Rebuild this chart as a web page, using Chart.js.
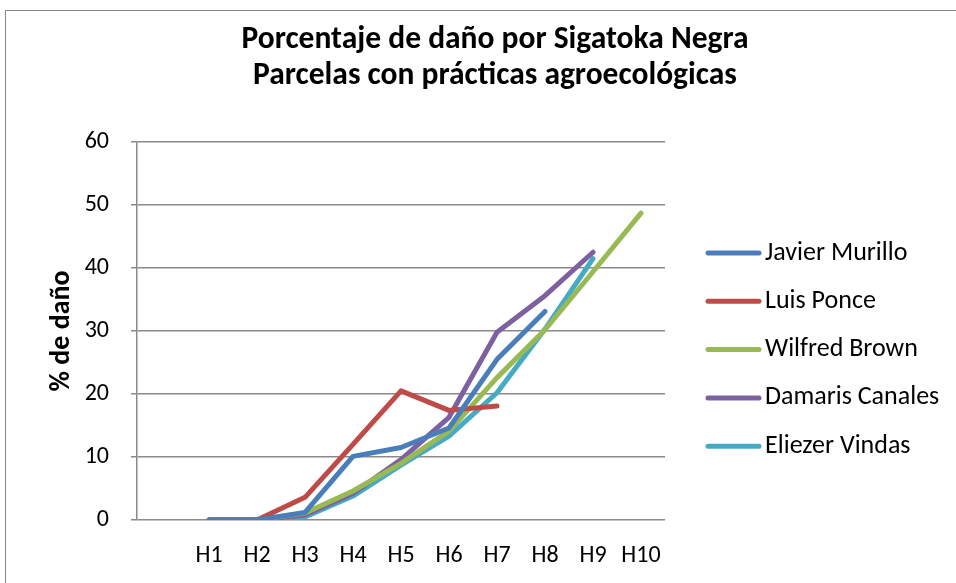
<!DOCTYPE html>
<html>
<head>
<meta charset="utf-8">
<script src="https://cdn.jsdelivr.net/npm/chart.js@4.4.1/dist/chart.umd.min.js"></script>
<style>
  body { margin: 0; background: #fff; overflow: hidden; }
  #frame { position: absolute; left: 5px; top: 10px; width: 1100px; height: 800px; border: 1px solid #888; }
  #chart-box { position: absolute; left: 0; top: 0; width: 956px; height: 583px; }
</style>
</head>
<body>
<div id="frame"></div>
<div id="chart-box"><canvas id="lineChart" width="956" height="583"></canvas></div>
<script>
// Categories (first slot is left empty, as in the original sheet)
const categories = ['', 'H1', 'H2', 'H3', 'H4', 'H5', 'H6', 'H7', 'H8', 'H9', 'H10'];

// % de daño per parcela
const javierMurillo   = [null, 0, 0, 1.2, 10.1, 11.5, 14.6, 25.5, 33.1, null, null];
const luisPonce       = [null, 0, 0, 3.6, 12.0, 20.5, 17.4, 18.1, null, null, null];
const wilfredBrown    = [null, 0, 0, 1.1, 4.6, 9.0, 14.1, 22.6, 30.2, 39.4, 48.7];
const damarisCanales  = [null, 0, 0, 0.8, 4.2, 9.6, 16.3, 29.8, 35.6, 42.5, null];
const eliezerVindas   = [null, 0, 0, 0.5, 3.8, 8.7, 13.3, 20.2, 30.3, 41.5, null];

const yTicks = [0, 10, 20, 30, 40, 50, 60];

const titleLines = ['Porcentaje de daño por Sigatoka Negra', 'Parcelas con prácticas agroecológicas'];

const FONT = 'Carlito, Lato, "Open Sans", sans-serif';

function makeSet(label, data, color) {
  return {
    label: label,
    data: data,
    borderColor: color,
    backgroundColor: color,
    borderWidth: 5,
    borderCapStyle: 'round',
    borderJoinStyle: 'round',
    pointRadius: 0,
    pointHoverRadius: 0,
    tension: 0,
    fill: false,
    spanGaps: false,
  };
}

// Title centred over the whole chart (plot + legend), like Excel does
const bigTitle = {
  id: 'bigTitle',
  afterDraw(chart) {
    const ctx = chart.ctx;
    ctx.save();
    ctx.fillStyle = '#000';
    ctx.font = 'bold 31.5px ' + FONT;
    ctx.textAlign = 'center';
    ctx.textBaseline = 'middle';
    titleLines.forEach((line, i) => {
      ctx.fillText(line, 495, 40 + i * 36);
    });
    ctx.restore();
  }
};

// Legend drawn on the right, like the Excel one
const sideLegend = {
  id: 'sideLegend',
  afterDraw(chart) {
    const ctx = chart.ctx;
    ctx.save();
    chart.data.datasets.forEach((ds, i) => {
      const y = 253 + i * 48.3;
      ctx.strokeStyle = ds.borderColor;
      ctx.lineWidth = 5;
      ctx.lineCap = 'round';
      ctx.beginPath();
      ctx.moveTo(708, y);
      ctx.lineTo(759, y);
      ctx.stroke();
      ctx.fillStyle = '#000';
      ctx.font = '26px ' + FONT;
      ctx.textBaseline = 'middle';
      ctx.textAlign = 'left';
      ctx.fillText(ds.label, 765, y);
    });
    ctx.restore();
  }
};

const ctx = document.getElementById('lineChart').getContext('2d');
const lineChart = new Chart(ctx, {
  type: 'line',
  data: {
    labels: categories,
    datasets: [
      makeSet('Javier Murillo', javierMurillo, '#4A7EBB'),
      makeSet('Luis Ponce', luisPonce, '#BE4B48'),
      makeSet('Wilfred Brown', wilfredBrown, '#98B954'),
      makeSet('Damaris Canales', damarisCanales, '#7D60A0'),
      makeSet('Eliezer Vindas', eliezerVindas, '#46AAC5'),
    ],
  },
  options: {
    responsive: false,
    animation: false,
    devicePixelRatio: 1,
    layout: {
      padding: { left: 0, right: 291, top: 142, bottom: 0 },
    },
    scales: {
      x: {
        offset: true,
        grid: { display: false, offset: true },
        border: { display: false },
        ticks: {
          color: '#000',
          font: { family: FONT, size: 24 },
          padding: 14,
          maxRotation: 0,
          autoSkip: false,
        },
        afterFit(scale) { scale.height = 63; },
      },
      y: {
        min: 0,
        max: 60,
        afterBuildTicks(scale) { scale.ticks = yTicks.map(v => ({ value: v })); },
        grid: { color: '#8a8a8a', lineWidth: 1.5, tickLength: 6, drawTicks: true },
        border: { display: true, color: '#8a8a8a', width: 1.5 },
        ticks: {
          color: '#000',
          font: { family: FONT, size: 24 },
          padding: 22,
        },
        title: {
          display: true,
          text: '% de daño',
          color: '#000',
          font: { family: FONT, size: 28, weight: 'bold' },
          padding: { top: 45, bottom: 0 },
        },
        afterFit(scale) { scale.width = 137; },
      },
    },
    plugins: {
      legend: { display: false },
      tooltip: { enabled: false },
      title: { display: false },
    },
  },
  plugins: [bigTitle, sideLegend],
});
</script>
</body>
</html>
